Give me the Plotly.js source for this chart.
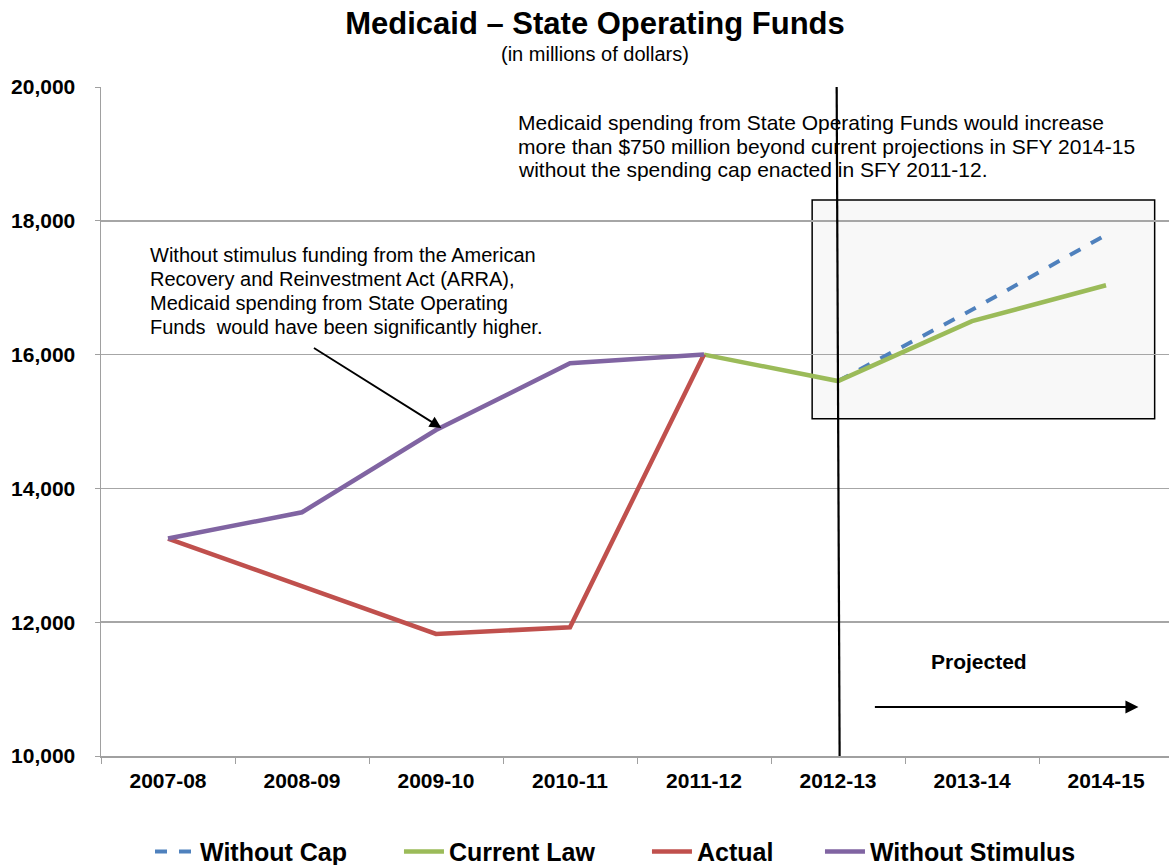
<!DOCTYPE html>
<html>
<head>
<meta charset="utf-8">
<script src="https://cdn.plot.ly/plotly-3.0.1.min.js"></script>
<style>
  html, body { margin: 0; padding: 0; background: #ffffff; }
  #chart { width: 1169px; height: 865px; }
</style>
</head>
<body>
<div id="chart"></div>
<script>
// ---- Data (in millions of dollars) ----
const years = ["2007-08", "2008-09", "2009-10", "2010-11", "2011-12", "2012-13", "2013-14", "2014-15"];
const withoutCap      = [null, null, null, null, null, 15605, 16670, 17790];
const currentLaw      = [null, null, null, null, 16000, 15605, 16500, 17036];
const actual          = [13250, 12535, 11824, 11924, 16000, null, null, null];
const withoutStimulus = [13250, 13643, 14873, 15870, 16000, null, null, null];
const yTicks = [10000, 12000, 14000, 16000, 18000, 20000];
const yTickLabels = ["10,000", "12,000", "14,000", "16,000", "18,000", "20,000"];

const capNote = [
  "Medicaid spending from State Operating Funds would increase",
  "more than $750 million beyond current projections in SFY 2014-15",
  "without the spending cap enacted in SFY 2011-12."
];
const stimulusNote = [
  "Without stimulus funding from the American",
  "Recovery and Reinvestment Act (ARRA),",
  "Medicaid spending from State Operating",
  "Funds  would have been significantly higher."
];

const FONT = "Liberation Sans, Arial, Helvetica, sans-serif";

const traces = [
  { name: "Without Cap", x: years, y: withoutCap, type: "scatter", mode: "lines", legend: "legend",
    line: { color: "#4F81BD", width: 4, dash: "dash" } },
  { name: "Current Law", x: years, y: currentLaw, type: "scatter", mode: "lines", legend: "legend2",
    line: { color: "#9BBB59", width: 4.5 } },
  { name: "Actual", x: years, y: actual, type: "scatter", mode: "lines", legend: "legend3",
    line: { color: "#C0504D", width: 4.5 } },
  { name: "Without Stimulus", x: years, y: withoutStimulus, type: "scatter", mode: "lines", legend: "legend4",
    line: { color: "#8064A2", width: 4.5 } }
];

const annotations = [
  { text: "(in millions of dollars)", xref: "paper", yref: "paper", x: 0.4625, y: (756-54)/669,
    xanchor: "center", yanchor: "middle", showarrow: false, font: { size: 20, family: FONT, color: "#000" } },
  { text: "", xref: "x", yref: "y", x: 2.04, y: 14903, axref: "x", ayref: "y", ax: 1.078, ay: 16114,
    showarrow: true, arrowhead: 2, arrowsize: 1.3, arrowwidth: 1.8, arrowcolor: "#000" },
  { text: "<b>Projected</b>", xref: "x", yref: "y", x: 6.055, y: 11420, xanchor: "center", yanchor: "middle",
    showarrow: false, font: { size: 21, family: FONT, color: "#000" } },
  { text: "", xref: "x", yref: "y", x: 7.242, y: 10732, axref: "x", ayref: "y", ax: 5.264, ay: 10732,
    showarrow: true, arrowhead: 2, arrowsize: 1.3, arrowwidth: 2, arrowcolor: "#000" }
];
const capY = [19462, 19118, 18774];
capNote.forEach((t, i) => annotations.push({
  text: t, xref: "x", yref: "y", x: 2.6, y: capY[i], xanchor: "left", yanchor: "middle",
  showarrow: false, font: { size: 21, family: FONT, color: "#000" }
}));
const stimY = [17489, 17130, 16771, 16413];
stimulusNote.forEach((t, i) => annotations.push({
  text: t, xref: "x", yref: "y", x: -0.146, y: stimY[i], xanchor: "left", yanchor: "middle",
  showarrow: false, font: { size: 20, family: FONT, color: "#000" }
}));

function legendAt(xPaper) {
  return { orientation: "h", x: xPaper, xanchor: "left", y: -0.143, yanchor: "middle",
           font: { size: 25, family: FONT, color: "#000", weight: "bold" },
           itemwidth: 40, bgcolor: "rgba(0,0,0,0)" };
}

const layout = {
  width: 1169, height: 865,
  margin: { l: 101, r: 0, t: 87, b: 109, autoexpand: false },
  paper_bgcolor: "#ffffff", plot_bgcolor: "#ffffff",
  font: { family: FONT, color: "#000000" },
  title: { text: "<b>Medicaid – State Operating Funds</b>", font: { size: 31, family: FONT, color: "#000" },
           x: 595/1169, xanchor: "center", xref: "container", y: 1 - 23/865, yanchor: "middle" },
  showlegend: true,
  legend: legendAt(0.0459),
  legend2: legendAt(0.2790),
  legend3: legendAt(0.5112),
  legend4: legendAt(0.6732),
  xaxis: {
    type: "category", categoryorder: "array", categoryarray: years,
    range: [-0.5, 7.47], tickson: "boundaries", ticks: "outside", ticklen: 6, tickcolor: "#a0a0a0",
    showline: true, linecolor: "#a0a0a0", linewidth: 1.5, showgrid: false, zeroline: false,
    tickfont: { size: 21, family: FONT, color: "#000", weight: "bold" }, ticklabelstandoff: 5
  },
  yaxis: {
    range: [10000, 20000], tickvals: yTicks, ticktext: yTickLabels,
    ticks: "outside", ticklen: 5, tickcolor: "#a0a0a0",
    showline: true, linecolor: "#a0a0a0", linewidth: 1.5,
    showgrid: true, gridcolor: "#a6a6a6", gridwidth: 1.5, zeroline: false,
    tickfont: { size: 21, family: FONT, color: "#000", weight: "bold" }, ticklabelstandoff: 15
  },
  shapes: [
    { type: "rect", xref: "x", yref: "y", x0: 4.807, x1: 7.363, y0: 15042, y1: 18311,
      fillcolor: "#f8f8f8", line: { color: "#000000", width: 1.5 }, layer: "below" },
    { type: "line", xref: "x", yref: "paper", x0: 4.99, x1: 5.012, y0: 1.0, y1: 0,
      line: { color: "#000000", width: 2.2 }, layer: "above" }
  ],
  annotations: annotations
};

Plotly.newPlot("chart", traces, layout, { displayModeBar: false, staticPlot: true });
</script>
</body>
</html>
